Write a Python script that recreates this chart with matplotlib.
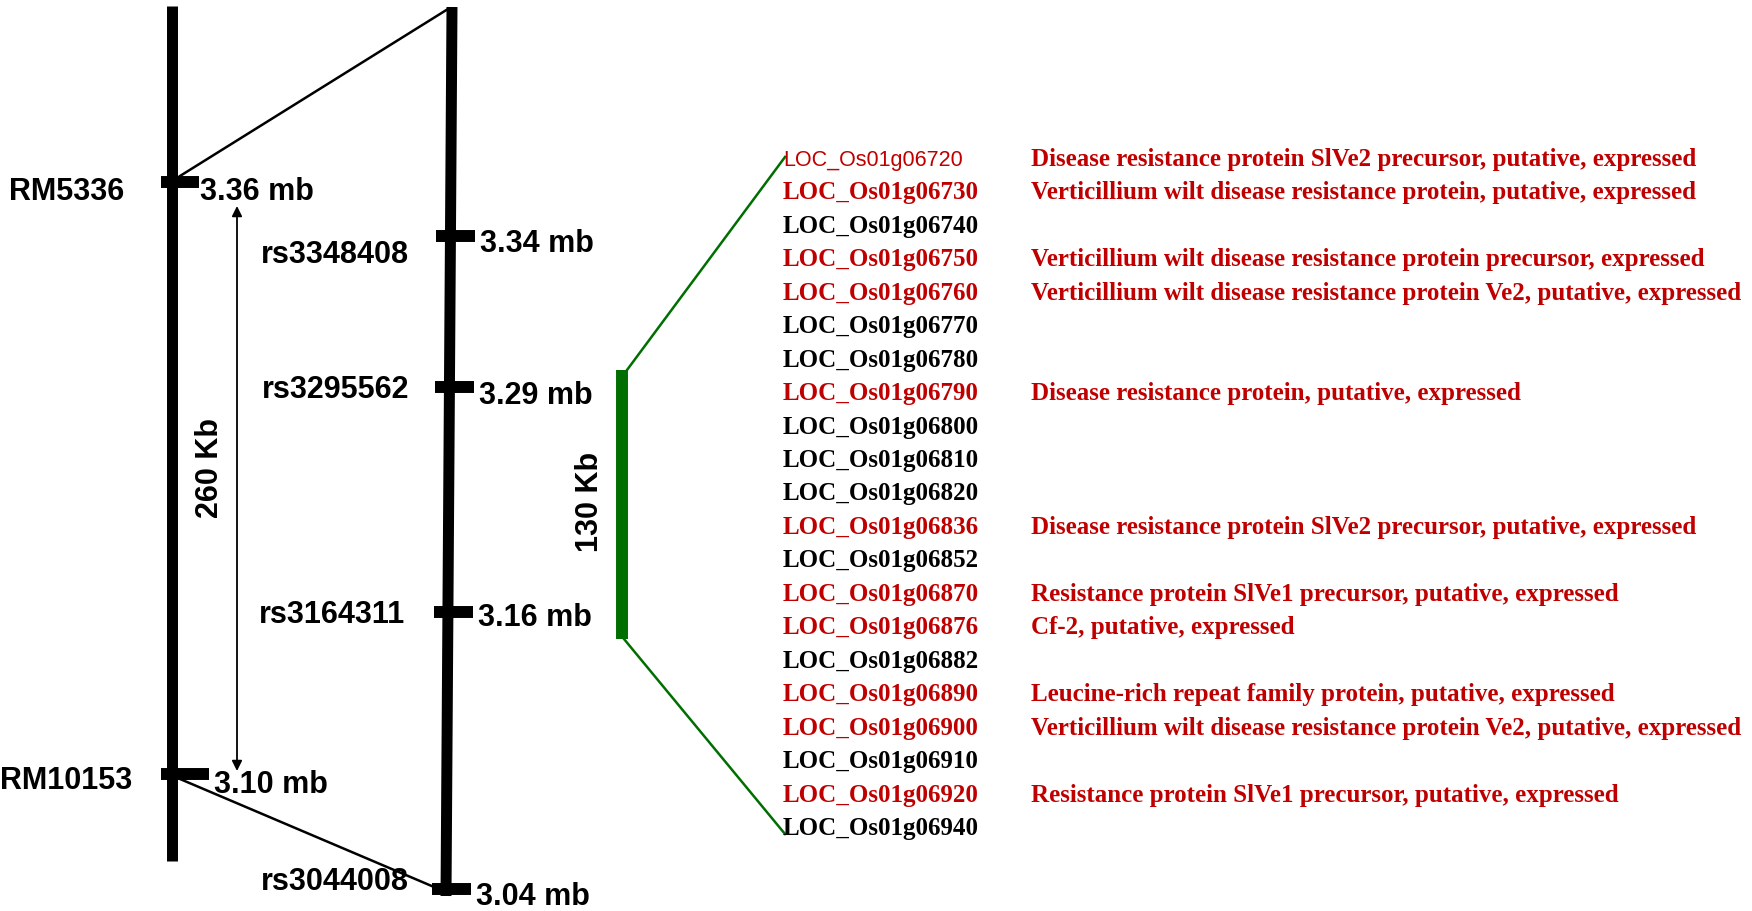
import matplotlib.pyplot as plt

# Markers on the genetic map (left) and the physical map (right)
left_markers = ['RM5336', 'RM10153']
left_mb = [3.36, 3.10]
right_markers = ['rs3348408', 'rs3295562', 'rs3164311', 'rs3044008']
right_mb = [3.34, 3.29, 3.16, 3.04]
left_interval_kb = 260
right_interval_kb = 130

# Genes in the 130 Kb interval
gene_ids = ['LOC_Os01g06720', 'LOC_Os01g06730', 'LOC_Os01g06740', 'LOC_Os01g06750',
            'LOC_Os01g06760', 'LOC_Os01g06770', 'LOC_Os01g06780', 'LOC_Os01g06790',
            'LOC_Os01g06800', 'LOC_Os01g06810', 'LOC_Os01g06820', 'LOC_Os01g06836',
            'LOC_Os01g06852', 'LOC_Os01g06870', 'LOC_Os01g06876', 'LOC_Os01g06882',
            'LOC_Os01g06890', 'LOC_Os01g06900', 'LOC_Os01g06910', 'LOC_Os01g06920',
            'LOC_Os01g06940']
gene_desc = ['Disease resistance protein SlVe2 precursor, putative, expressed',
             'Verticillium wilt disease resistance protein, putative, expressed',
             '',
             'Verticillium wilt disease resistance protein precursor, expressed',
             'Verticillium wilt disease resistance protein Ve2, putative, expressed',
             '', '',
             'Disease resistance protein, putative, expressed',
             '', '', '',
             'Disease resistance protein SlVe2 precursor, putative, expressed',
             '',
             'Resistance protein SlVe1 precursor, putative, expressed',
             'Cf-2, putative, expressed',
             '',
             'Leucine-rich repeat family protein, putative, expressed',
             'Verticillium wilt disease resistance protein Ve2, putative, expressed',
             '',
             'Resistance protein SlVe1 precursor, putative, expressed',
             '']

# layout (pixel space)
left_x = 172
left_top, left_bot = 7, 862
left_y = [183, 775]
right_top, right_bot = 8, 897
right_x_top, right_x_bot = 452, 446
right_y = [237, 388, 613, 890]
row0, row_step = 166, 33.45
RED = '#C00000'
GREEN = '#006E00'
SANS = ['Liberation Sans', 'DejaVu Sans']
SERIF = ['Liberation Serif', 'DejaVu Serif']
LAB = dict(fontsize=22, family=SANS, fontweight='bold')


def right_x(y):
    t = (y - right_top) / (right_bot - right_top)
    return right_x_top + t * (right_x_bot - right_x_top)


fig = plt.figure(figsize=(17.52, 9.12), dpi=100)
ax = fig.add_axes([0, 0, 1, 1])
ax.set_xlim(0, 1752)
ax.set_ylim(912, 0)
ax.axis('off')

# chromosomes
ax.plot([left_x, left_x], [left_top, left_bot], color='black', lw=7.9, solid_capstyle='butt')
ax.plot([right_x_top, right_x_bot], [right_top, right_bot], color='black', lw=7.9,
        solid_capstyle='butt')

# connectors between the two maps
ax.plot([left_x + 8, right_x(10) - 4], [left_y[0] - 6, 10], color='black', lw=1.8)
ax.plot([left_x + 8, right_x(888) - 12], [left_y[1] + 5, right_y[-1] - 2], color='black', lw=1.8)

# left markers
left_tick = [(161, 199), (161, 209)]
left_lab_dx = [124, 132]
left_mb_x = [200, 214]
left_base = [200, 789]
left_mb_base = [200, 793]
for i, name in enumerate(left_markers):
    x0, x1 = left_tick[i]
    ax.plot([x0, x1], [left_y[i], left_y[i]], color='black', lw=8.6, solid_capstyle='butt')
    ax.text(left_lab_dx[i], left_base[i], name, ha='right', va='baseline', **LAB)
    ax.text(left_mb_x[i], left_mb_base[i], f'{left_mb[i]:.2f} mb', ha='left', va='baseline',
            **LAB)

# right markers
right_lab_x = [409, 409, 405, 409]
right_base = [263, 398, 623, 890]
right_mb_base = [252, 404, 626, 905]
for i, name in enumerate(right_markers):
    xc = right_x(right_y[i])
    ax.plot([xc - 14, xc + 25], [right_y[i], right_y[i]], color='black', lw=8.6,
            solid_capstyle='butt')
    ax.text(right_lab_x[i], right_base[i], name, ha='right', va='baseline', **LAB)
    ax.text(xc + 30, right_mb_base[i], f'{right_mb[i]:.2f} mb', ha='left', va='baseline',
            **LAB)

# 260 Kb interval arrow
ax.annotate('', xy=(237, 207), xytext=(237, 772),
            arrowprops=dict(arrowstyle='<|-|>', color='black', lw=1.3, mutation_scale=15,
                            shrinkA=0, shrinkB=0))
ax.text(210, 468, f'{left_interval_kb} Kb', rotation=90, ha='center', va='center', **LAB)

# 130 Kb candidate region
bar_x, bar_top, bar_bot = 622, 371, 640
ax.plot([bar_x, bar_x], [bar_top, bar_bot], color=GREEN, lw=8.6, solid_capstyle='butt')
ax.text(590, 502, f'{right_interval_kb} Kb', rotation=90, ha='center', va='center', **LAB)

gene_x, desc_x = 783, 1031
first_base = row0
last_base = row0 + (len(gene_ids) - 1) * row_step
ax.plot([bar_x + 5, gene_x + 2], [bar_top, first_base - 8], color=GREEN, lw=1.8)
ax.plot([bar_x + 2, gene_x + 2], [bar_bot, last_base], color=GREEN, lw=1.8)

# gene list
for i, gid in enumerate(gene_ids):
    yb = row0 + i * row_step
    col = RED if gene_desc[i] else 'black'
    if i == 0:
        ax.text(gene_x, yb, gid, ha='left', va='baseline', fontsize=15.5, color=col,
                family=SANS)
    else:
        ax.text(gene_x, yb, gid, ha='left', va='baseline', fontsize=18, color=col,
                family=SERIF, fontweight='bold')
    if gene_desc[i]:
        ax.text(desc_x, yb, gene_desc[i], ha='left', va='baseline', fontsize=18, color=RED,
                family=SERIF, fontweight='bold')

fig.savefig('out.png', dpi=100)
